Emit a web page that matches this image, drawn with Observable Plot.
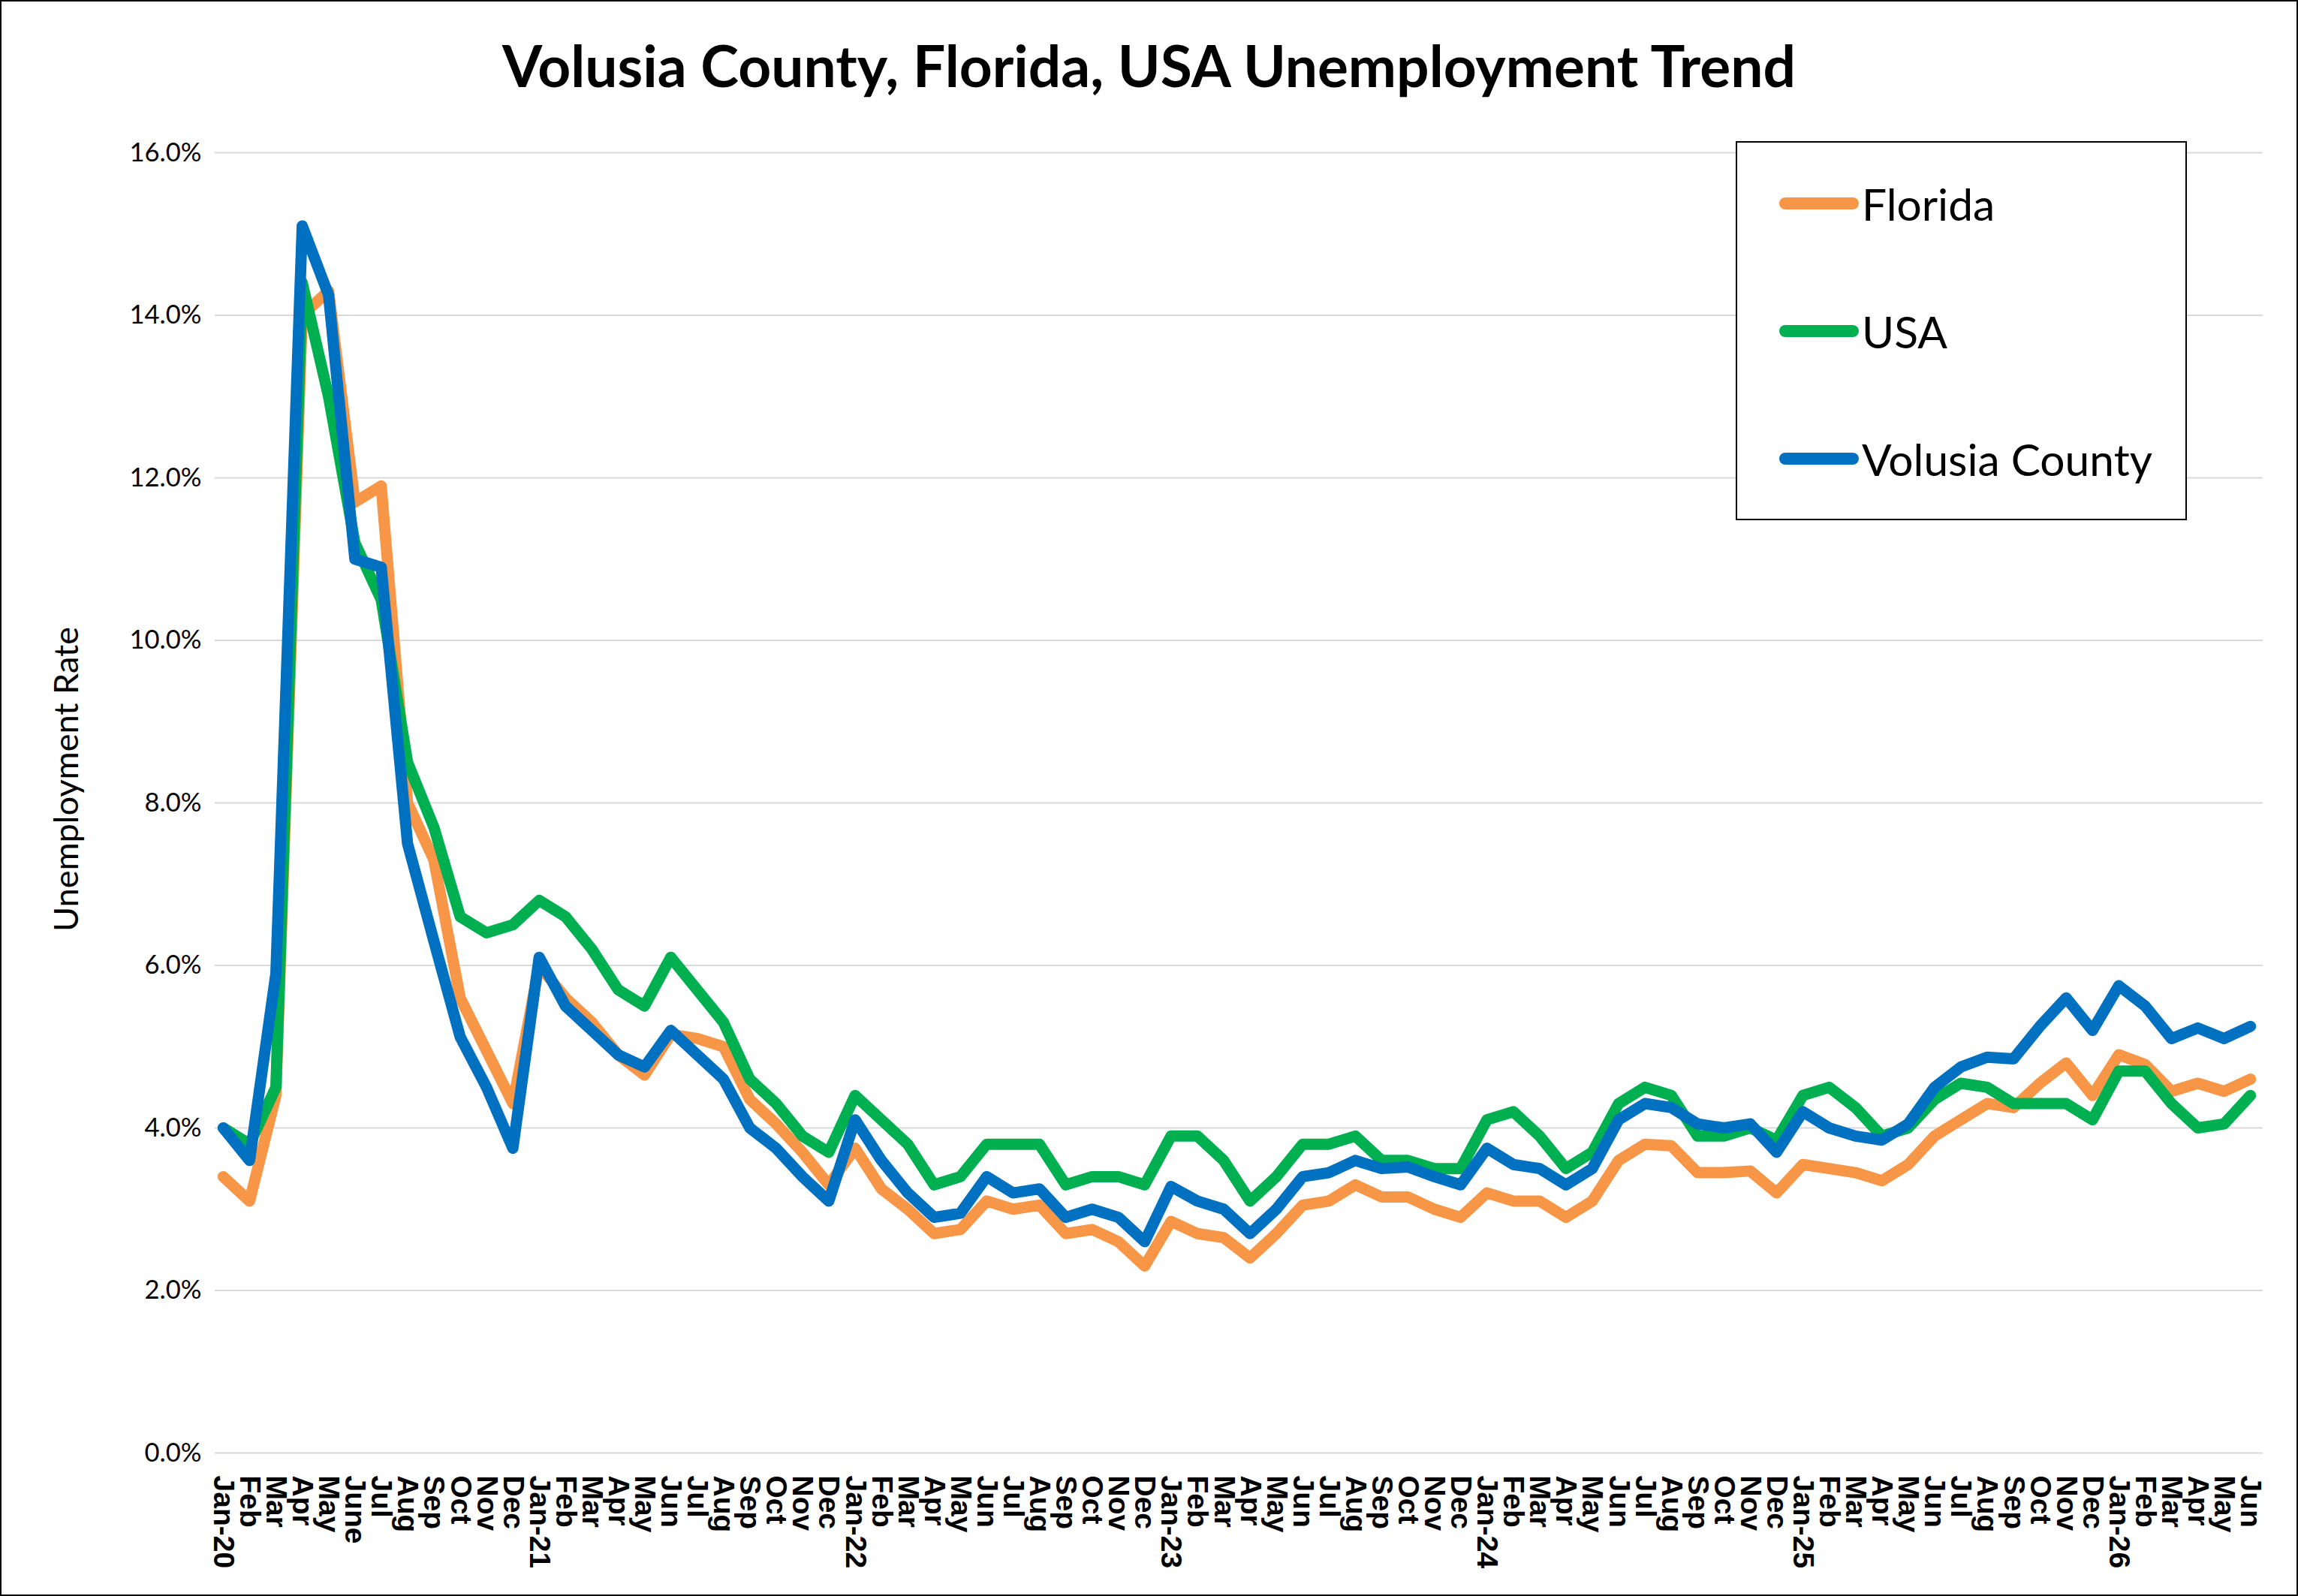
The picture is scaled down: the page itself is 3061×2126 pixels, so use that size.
<!DOCTYPE html>
<html>
<head>
<meta charset="utf-8">
<script src="https://cdn.jsdelivr.net/npm/d3@7"></script>
<script src="https://cdn.jsdelivr.net/npm/@observablehq/plot@0.6"></script>
<style>
html, body { margin: 0; padding: 0; background: #fff; }
#chart { position: relative; width: 3061px; height: 2126px; background: #fff; overflow: hidden; }
#chart svg { position: absolute; left: 0; top: 0; }
#frame { position: absolute; left: 0; top: 0; width: 3061px; height: 2126px; box-sizing: border-box; border: 2px solid #000; pointer-events: none; }
#title { position: absolute; left: 0; width: 3061px; text-align: center; font-family: Lato, sans-serif; font-weight: 700; color: #000; white-space: nowrap; }
#ytitle { position: absolute; font-family: Lato, sans-serif; color: #000; white-space: nowrap; transform: translate(-50%, -50%) rotate(-90deg); }
#legend { position: absolute; box-sizing: border-box; border: 2px solid #000; background: #fff; }
.lg-row { position: absolute; left: 0; height: 0; }
.lg-sw { position: absolute; height: 16px; border-radius: 8px; }
.lg-tx { position: absolute; font-family: Lato, sans-serif; color: #000; white-space: nowrap; transform: translateY(-50%); }
</style>
</head>
<body>
<div id="chart"></div>
<script>
// ---------- data ----------
const monthLabels = [
  "Jan-20","Feb","Mar","Apr","May","June","Jul","Aug","Sep","Oct","Nov","Dec",
  "Jan-21","Feb","Mar","Apr","May","Jun","Jul","Aug","Sep","Oct","Nov","Dec",
  "Jan-22","Feb","Mar","Apr","May","Jun","Jul","Aug","Sep","Oct","Nov","Dec",
  "Jan-23","Feb","Mar","Apr","May","Jun","Jul","Aug","Sep","Oct","Nov","Dec",
  "Jan-24","Feb","Mar","Apr","May","Jun","Jul","Aug","Sep","Oct","Nov","Dec",
  "Jan-25","Feb","Mar","Apr","May","Jun","Jul","Aug","Sep","Oct","Nov","Dec",
  "Jan-26","Feb","Mar","Apr","May","Jun"
];

const florida = [
  3.4, 3.1, 4.4, 14.0, 14.3, 11.7, 11.9, 8.0, 7.3, 5.6, 4.95, 4.3,
  6.0, 5.6, 5.3, 4.9, 4.65, 5.15, 5.1, 5.0, 4.35, 4.05, 3.7, 3.3,
  3.75, 3.25, 3.0, 2.7, 2.75, 3.1, 3.0, 3.05, 2.7, 2.75, 2.6, 2.3,
  2.85, 2.7, 2.65, 2.4, 2.7, 3.05, 3.1, 3.3, 3.15, 3.15, 3.0, 2.9,
  3.2, 3.1, 3.1, 2.9, 3.1, 3.6, 3.8, 3.78, 3.45, 3.45, 3.47, 3.2,
  3.55, 3.5, 3.45, 3.35, 3.55, 3.9, 4.1, 4.3, 4.25, 4.55, 4.8, 4.4,
  4.9, 4.78, 4.45, 4.55, 4.45, 4.6
];

const usa = [
  4.0, 3.8, 4.5, 14.4, 13.0, 11.2, 10.5, 8.5, 7.7, 6.6, 6.4, 6.5,
  6.8, 6.6, 6.2, 5.7, 5.5, 6.1, 5.7, 5.3, 4.6, 4.3, 3.9, 3.7,
  4.4, 4.1, 3.8, 3.3, 3.4, 3.8, 3.8, 3.8, 3.3, 3.4, 3.4, 3.3,
  3.9, 3.9, 3.6, 3.1, 3.4, 3.8, 3.8, 3.9, 3.6, 3.6, 3.5, 3.5,
  4.1, 4.2, 3.9, 3.5, 3.7, 4.3, 4.5, 4.4, 3.9, 3.9, 4.0, 3.85,
  4.4, 4.5, 4.25, 3.9, 4.0, 4.35, 4.55, 4.5, 4.3, 4.3, 4.3, 4.1,
  4.7, 4.7, 4.3, 4.0, 4.05, 4.4
];

const volusia = [
  4.0, 3.6, 5.9, 15.1, 14.25, 11.0, 10.9, 7.5, 6.3, 5.12, 4.5, 3.75,
  6.1, 5.5, 5.2, 4.9, 4.75, 5.2, 4.9, 4.6, 4.0, 3.75, 3.4, 3.1,
  4.1, 3.6, 3.2, 2.9, 2.95, 3.4, 3.2, 3.25, 2.9, 3.0, 2.9, 2.6,
  3.28, 3.1, 3.0, 2.7, 3.0, 3.4, 3.45, 3.6, 3.5, 3.52, 3.4, 3.3,
  3.75, 3.55, 3.5, 3.3, 3.5, 4.1, 4.3, 4.25, 4.05, 4.0, 4.05, 3.7,
  4.2, 4.0, 3.9, 3.85, 4.05, 4.5, 4.75, 4.87, 4.85, 5.25, 5.6, 5.2,
  5.75, 5.5, 5.1, 5.23, 5.1, 5.25
];

const seriesNames = ["Florida", "USA", "Volusia County"];
const seriesColors = ["#F79646", "#00B050", "#0070C0"];
const yTicks = [0, 2, 4, 6, 8, 10, 12, 14, 16];
const titleText = "Volusia County, Florida, USA Unemployment Trend";
const yAxisTitle = "Unemployment Rate";

// ---------- helpers ----------
const cvs = document.createElement("canvas").getContext("2d");
function fitSize(text, family, weight, target) {
  cvs.font = `${weight} 100px ${family}`;
  const w = cvs.measureText(text).width;
  return 100 * target / w;
}

// ---------- table ----------
const seriesValues = [florida, usa, volusia];
const rows = [];
seriesNames.forEach((name, s) => {
  seriesValues[s].forEach((v, i) => rows.push({i, label: monthLabels[i], name, v}));
});

const W = 3061, H = 2126;
const yFs = fitSize("16.0%", "Lato", 400, 96);

const plot = Plot.plot({
  width: W,
  height: H,
  marginLeft: 286,
  marginRight: 47,
  marginTop: 203,
  marginBottom: 191,
  style: {background: "transparent", fontFamily: "Lato", overflow: "visible"},
  x: {domain: [-0.31, 77.48]},
  y: {domain: [0, 16]},
  color: {domain: seriesNames, range: seriesColors},
  marks: [
    Plot.gridY(yTicks, {stroke: "#d9d9d9", strokeOpacity: 1, strokeWidth: 2}),
    Plot.axisY(yTicks, {
      anchor: "left", tickSize: 0, tickPadding: 18, label: null,
      tickFormat: d => d.toFixed(1) + "%",
      fontSize: yFs, fontFamily: "Lato", fill: "#000"
    }),
    Plot.axisX(d3.range(monthLabels.length), {
      anchor: "bottom", tickSize: 0, tickPadding: 30, label: null,
      tickRotate: 90, textAnchor: "start", lineAnchor: "middle",
      tickFormat: i => monthLabels[i],
      fontSize: 39, fontWeight: "bold", fontFamily: "Liberation Sans", fill: "#000"
    }),
    Plot.line(rows, {
      x: "i", y: "v", z: "name", stroke: "name",
      strokeWidth: 15, strokeLinecap: "round", strokeLinejoin: "round"
    })
  ]
});

const chart = document.getElementById("chart");
chart.appendChild(plot);

// title
const title = document.createElement("div");
title.id = "title";
const tFs = fitSize(titleText, "Lato", 700, 1728);
title.style.fontSize = tFs + "px";
title.style.lineHeight = "100px";
title.style.top = "36px";
title.textContent = titleText;
chart.appendChild(title);

// y axis title
const yt = document.createElement("div");
yt.id = "ytitle";
yt.style.fontSize = fitSize(yAxisTitle, "Lato", 400, 406) + "px";
yt.style.left = "86px";
yt.style.top = "1038px";
yt.textContent = yAxisTitle;
chart.appendChild(yt);

// legend
const lg = document.createElement("div");
lg.id = "legend";
lg.style.left = "2312px";
lg.style.top = "188px";
lg.style.width = "601px";
lg.style.height = "505px";
chart.appendChild(lg);
const lgFs = fitSize("Volusia County", "Lato", 400, 387);
const rowY = [81, 251, 421];
seriesNames.forEach((name, k) => {
  const row = document.createElement("div");
  row.className = "lg-row";
  row.style.top = rowY[k] + "px";
  const sw = document.createElement("div");
  sw.className = "lg-sw";
  sw.style.background = seriesColors[k];
  sw.style.left = "56px";
  sw.style.width = "106px";
  sw.style.top = "-8px";
  const tx = document.createElement("div");
  tx.className = "lg-tx";
  tx.style.left = "166px";
  tx.style.fontSize = lgFs + "px";
  tx.textContent = name;
  row.appendChild(sw);
  row.appendChild(tx);
  lg.appendChild(row);
});

const frame = document.createElement("div");
frame.id = "frame";
chart.appendChild(frame);
</script>
</body>
</html>
